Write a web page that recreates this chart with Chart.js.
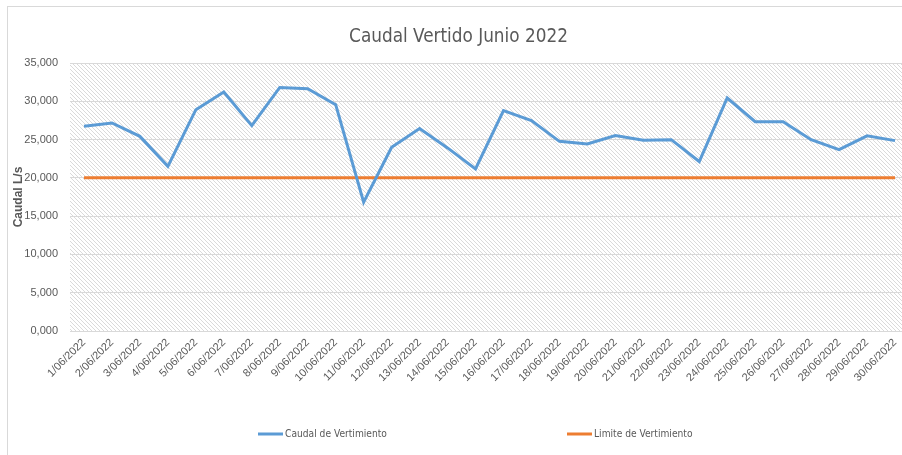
<!DOCTYPE html>
<html><head><meta charset="utf-8">
<script src="https://cdn.jsdelivr.net/npm/chart.js@4.4.0/dist/chart.umd.min.js"></script>
<style>
html,body{margin:0;padding:0;background:#fff;overflow:hidden;width:902px;height:455px;}
#frame{position:absolute;left:7px;top:6px;width:1000px;height:600px;border-left:1px solid #d9d9d9;border-top:1px solid #d9d9d9;}
#wrap{position:absolute;left:8px;top:7px;width:912px;height:448px;}
</style></head><body>
<div id="frame"></div>
<div id="wrap"><canvas id="c" width="912" height="448"></canvas></div>
<script>
const categories = ['1/06/2022','2/06/2022','3/06/2022','4/06/2022','5/06/2022','6/06/2022','7/06/2022','8/06/2022','9/06/2022','10/06/2022',
  '11/06/2022','12/06/2022','13/06/2022','14/06/2022','15/06/2022','16/06/2022','17/06/2022','18/06/2022','19/06/2022','20/06/2022',
  '21/06/2022','22/06/2022','23/06/2022','24/06/2022','25/06/2022','26/06/2022','27/06/2022','28/06/2022','29/06/2022','30/06/2022'];
const caudalVertimiento = [26730,27170,25420,21510,28900,31210,26820,31810,31640,29560,
  16820,23990,26430,23910,21170,28780,27470,24770,24430,25520,
  24900,24990,22130,30430,27340,27340,24990,23690,25480,24860];
const limiteVertimiento = [20000,20000,20000,20000,20000,20000,20000,20000,20000,20000,
  20000,20000,20000,20000,20000,20000,20000,20000,20000,20000,
  20000,20000,20000,20000,20000,20000,20000,20000,20000,20000];
const yTickLabels = ['0,000','5,000','10,000','15,000','20,000','25,000','30,000','35,000'];
const seriesNames = ['Caudal de Vertimiento','Limite de Vertimiento'];
const chartTitle = 'Caudal Vertido Junio 2022';
const yAxisTitle = 'Caudal L/s';

const TXT = '#595959';

// pick a narrow-ish installed font and size it to the reference text widths
const mctx = document.createElement('canvas').getContext('2d');
function hasFont(f){
  const s = 'abcdefghijklmnopqrstuvwxyz0123456789ABCDEFG';
  let diff = false;
  ['monospace','serif'].forEach(g=>{
    mctx.font = '40px ' + g; const a = mctx.measureText(s).width;
    mctx.font = '40px "' + f + '", ' + g; const b = mctx.measureText(s).width;
    if (Math.abs(a-b) > 0.5) diff = true;
  });
  return diff;
}
const narrowFamily = ['Liberation Sans Narrow','DejaVu Sans Condensed','Lato','Liberation Sans'].find(hasFont) || 'Liberation Sans';
function sizeFor(text, targetW, maxSize){
  mctx.font = '100px "' + narrowFamily + '"';
  const w = mctx.measureText(text).width;
  return Math.min(maxSize, 100 * targetW / w);
}
const titleSize = sizeFor(chartTitle, 219, 24);
const legendSize = sizeFor(seriesNames[0], 102, 13);

function makePattern(ctx){
  const p = document.createElement('canvas');
  p.width = 4; p.height = 4;
  const g = p.getContext('2d');
  g.fillStyle = '#ffffff'; g.fillRect(0,0,4,4);
  g.fillStyle = '#dadada';
  for (let i=0;i<4;i++) g.fillRect(i,i,1,1);
  return ctx.createPattern(p,'repeat');
}

const hatchPlugin = {
  id:'hatch',
  beforeDraw(chart){
    const {ctx, chartArea:a} = chart;
    ctx.save();
    ctx.fillStyle = makePattern(ctx);
    ctx.fillRect(a.left, a.top, a.right-a.left, a.bottom-a.top);
    ctx.restore();
  }
};

const legendPlugin = {
  id:'xlLegend',
  afterDraw(chart){
    const {ctx, chartArea:a} = chart;
    const y = a.bottom + 103;
    const starts = [a.left + 188, a.left + 497];
    ctx.save();
    ctx.font = legendSize.toFixed(2) + 'px "' + narrowFamily + '", sans-serif';
    ctx.textBaseline = 'middle';
    ctx.textAlign = 'left';
    chart.data.datasets.forEach((ds,i)=>{
      const x = starts[i];
      ctx.strokeStyle = ds.borderColor;
      ctx.lineWidth = 3;
      ctx.beginPath(); ctx.moveTo(x,y); ctx.lineTo(x+25,y); ctx.stroke();
      ctx.fillStyle = TXT;
      ctx.fillText(ds.label, x+27, y);
    });
    ctx.restore();
  }
};

const titleLH = titleSize * 1.2;
const titlePadTop = 30 - titleLH/2;
const titlePadBottom = 56 - titlePadTop - titleLH;

new Chart(document.getElementById('c'), {
  type:'line',
  data:{
    labels: categories,
    datasets:[
      {label: seriesNames[0], data: caudalVertimiento, borderColor:'#5B9BD5', backgroundColor:'#5B9BD5', borderWidth:3, pointRadius:0, tension:0, order:1},
      {label: seriesNames[1], data: limiteVertimiento, borderColor:'#ED7D31', backgroundColor:'#ED7D31', borderWidth:3, pointRadius:0, tension:0, order:2}
    ]
  },
  options:{
    responsive:false,
    animation:false,
    devicePixelRatio:1,
    layout:{padding:{top:0,right:11,bottom:0,left:0}},
    plugins:{
      legend:{display:false},
      tooltip:{enabled:false},
      title:{display:true, text: chartTitle, color:TXT,
        font:{family:'"' + narrowFamily + '", sans-serif', size:titleSize, weight:'normal', lineHeight:1.2},
        padding:{top:titlePadTop,bottom:titlePadBottom}}
    },
    scales:{
      x:{
        offset:true,
        grid:{display:false, drawTicks:false},
        border:{display:false},
        ticks:{autoSkip:false, maxRotation:45, minRotation:45, padding:5, color:TXT,
          font:{family:'"Liberation Sans", sans-serif', size:11}},
        afterFit(s){ s.height = 124; }
      },
      y:{
        min:0, max:35000,
        grid:{color:'#d9d9d9', lineWidth:1, drawTicks:false},
        border:{display:false},
        ticks:{stepSize:5000, padding:12, color:TXT,
          font:{family:'"Liberation Sans", sans-serif', size:11},
          callback:(v,i)=> yTickLabels[i]},
        title:{display:true, text:yAxisTitle, color:TXT, padding:{top:3,bottom:0},
          font:{family:'"Liberation Sans", sans-serif', size:12, weight:'bold'}},
        afterFit(s){ s.width = 62; }
      }
    }
  },
  plugins:[hatchPlugin, legendPlugin]
});
</script>
</body></html>
